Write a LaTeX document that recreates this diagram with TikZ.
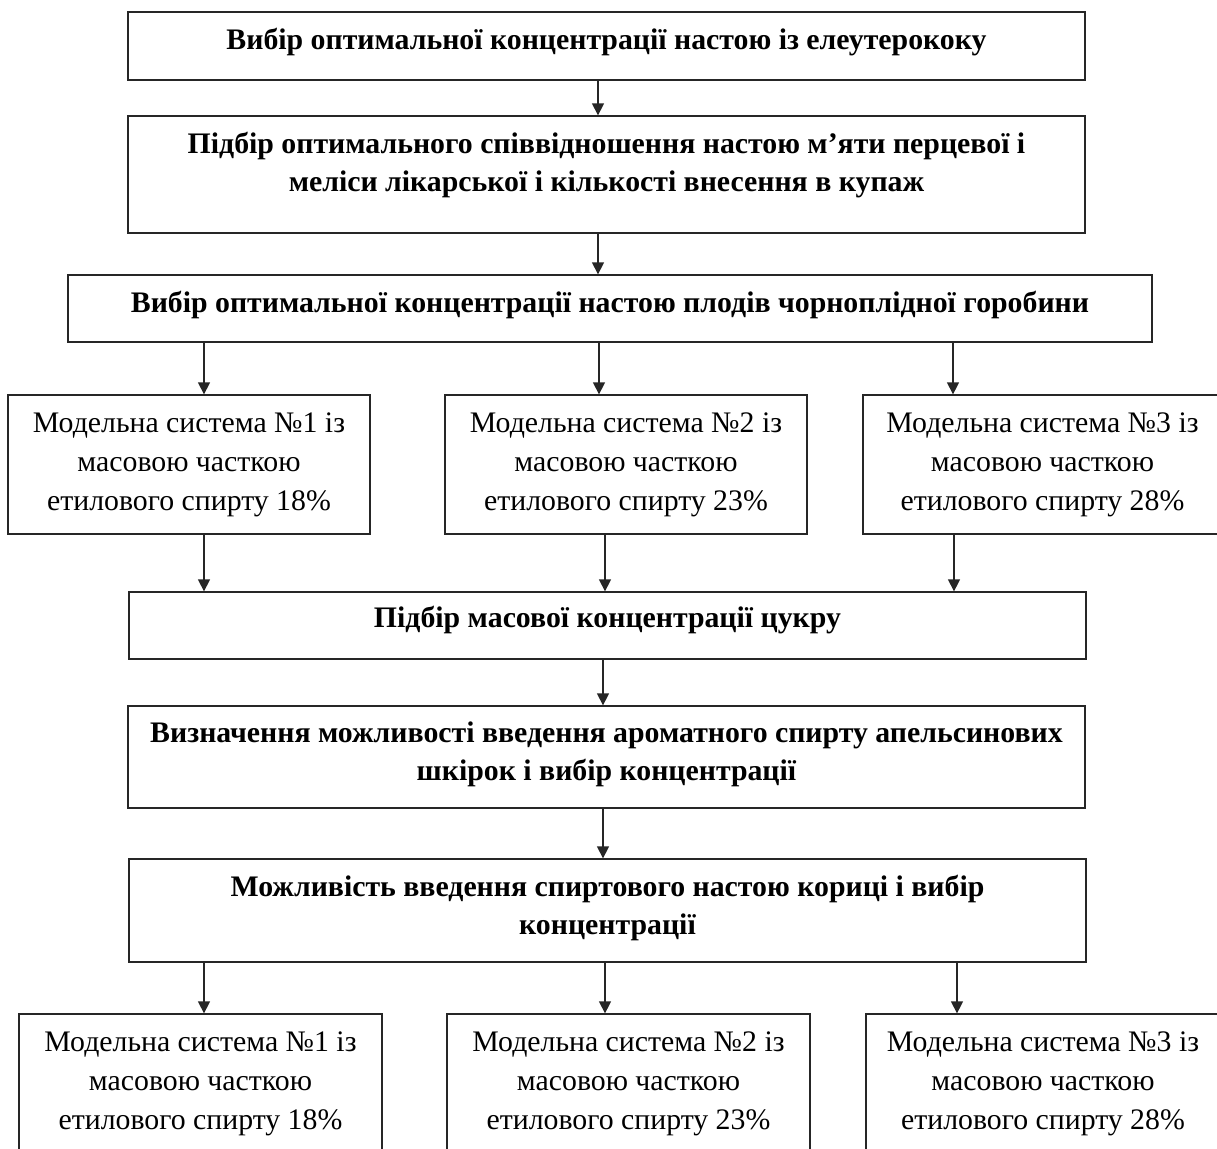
\documentclass[tikz,border=0pt]{standalone}
\usepackage{fontspec}
\setmainfont{Liberation Serif}
\usetikzlibrary{arrows.meta}
\newcommand{\Ls}[1]{\strut#1}
\begin{document}
\begin{tikzpicture}[x=1pt,y=-1pt,
  box/.style={draw=black!85, line width=1.3pt, rectangle, inner sep=0pt},
  btxt/.style={font=\bfseries\fontsize{29.8}{38.5}\selectfont, align=center, inner sep=0pt, anchor=north},
  ntxt/.style={font=\fontsize{29.8}{39}\selectfont, align=center, inner sep=0pt, anchor=north},
  arr/.style={draw=black!85, line width=1.3pt, -{Triangle[width=12pt,length=12pt]}}]
\useasboundingbox (0,0) rectangle (1217,1148);
\clip (0,0) rectangle (1217,1148);
\fill[white] (0,0) rectangle (1217,1148);

% main boxes
\node[box, minimum width=957pt, minimum height=68pt]  (b1) at (606.5,46) {};
\node[box, minimum width=957pt, minimum height=117pt] (b2) at (606.5,174.5) {};
\node[box, minimum width=1084pt, minimum height=67pt] (b3) at (610,308.5) {};
\node[box, minimum width=957pt, minimum height=67pt]  (b4) at (607.5,625.5) {};
\node[box, minimum width=957pt, minimum height=102pt] (b5) at (606.5,757) {};
\node[box, minimum width=957pt, minimum height=103pt] (b6) at (607.5,910.5) {};
% row 1
\node[box, minimum width=362pt, minimum height=139pt] (a1) at (189,464.5) {};
\node[box, minimum width=362pt, minimum height=139pt] (m1) at (626,464.5) {};
\node[box, minimum width=359pt, minimum height=139pt] (c1) at (1042.5,464.5) {};
% row 2
\node[box, minimum width=363pt, minimum height=139pt] (a2) at (200.5,1083.5) {};
\node[box, minimum width=363pt, minimum height=139pt] (m2) at (628.5,1083.5) {};
\node[box, minimum width=354pt, minimum height=139pt] (c2) at (1043,1083.5) {};

% texts
\node[btxt] (t1) at (606.5,22) {\Ls{Вибір оптимальної концентрації настою із елеутерококу}};
\node[btxt] (t2) at (606.5,126) {\Ls{Підбір оптимального співвідношення настою м’яти перцевої і}\\\Ls{меліси лікарської і кількості внесення в купаж}};
\node[btxt] (t3) at (610,285) {\Ls{Вибір оптимальної концентрації настою плодів чорноплідної горобини}};
\node[ntxt] (ta1) at (189,405) {\Ls{Модельна система №1 із}\\\Ls{масовою часткою}\\\Ls{етилового спирту 18\%}};
\node[ntxt] (tm1) at (626,405) {\Ls{Модельна система №2 із}\\\Ls{масовою часткою}\\\Ls{етилового спирту 23\%}};
\node[ntxt] (tc1) at (1042.5,405) {\Ls{Модельна система №3 із}\\\Ls{масовою часткою}\\\Ls{етилового спирту 28\%}};
\node[btxt] (t4) at (607.5,600) {\Ls{Підбір масової концентрації цукру}};
\node[btxt] (t5) at (606.5,715) {\Ls{Визначення можливості введення ароматного спирту апельсинових}\\\Ls{шкірок і вибір концентрації}};
\node[btxt] (t6) at (607.5,869) {\Ls{Можливість введення спиртового настою кориці і вибір}\\\Ls{концентрації}};
\node[ntxt] (ta2) at (200.5,1024) {\Ls{Модельна система №1 із}\\\Ls{масовою часткою}\\\Ls{етилового спирту 18\%}};
\node[ntxt] (tm2) at (628.5,1024) {\Ls{Модельна система №2 із}\\\Ls{масовою часткою}\\\Ls{етилового спирту 23\%}};
\node[ntxt] (tc2) at (1043,1024) {\Ls{Модельна система №3 із}\\\Ls{масовою часткою}\\\Ls{етилового спирту 28\%}};

% vertical guide coordinates
\coordinate (v598) at (598,0);
\coordinate (v599) at (599,0);
\coordinate (v603) at (603,0);
\coordinate (v605) at (605,0);
\coordinate (v204) at (204,0);
\coordinate (v953) at (953,0);
\coordinate (v954) at (954,0);
\coordinate (v957) at (957,0);

% connectors
\draw[arr] (b1.south -| v598) -- (b2.north -| v598);
\draw[arr] (b2.south -| v598) -- (b3.north -| v598);
\draw[arr] (b3.south -| v204) -- (a1.north -| v204);
\draw[arr] (b3.south -| v599) -- (m1.north -| v599);
\draw[arr] (b3.south -| v953) -- (c1.north -| v953);
\draw[arr] (a1.south -| v204) -- (b4.north -| v204);
\draw[arr] (m1.south -| v605) -- (b4.north -| v605);
\draw[arr] (c1.south -| v954) -- (b4.north -| v954);
\draw[arr] (b4.south -| v603) -- (b5.north -| v603);
\draw[arr] (b5.south -| v603) -- (b6.north -| v603);
\draw[arr] (b6.south -| v204) -- (a2.north -| v204);
\draw[arr] (b6.south -| v605) -- (m2.north -| v605);
\draw[arr] (b6.south -| v957) -- (c2.north -| v957);
\end{tikzpicture}
\end{document}
